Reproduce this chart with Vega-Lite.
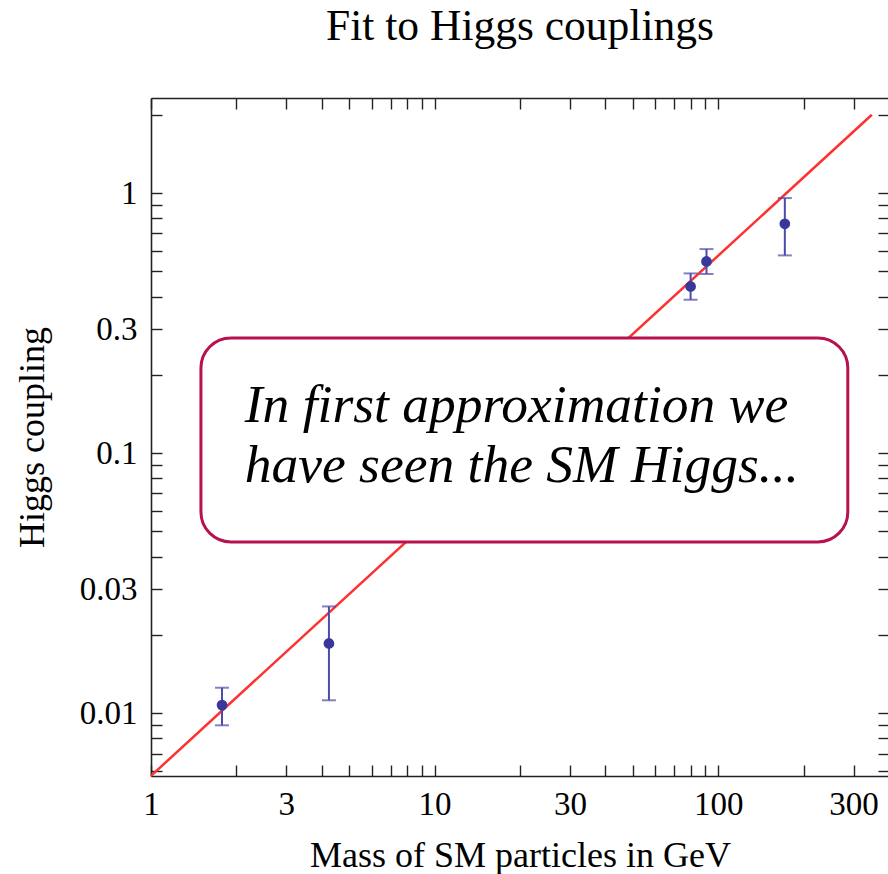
{
  "$schema": "https://vega.github.io/schema/vega-lite/v6.json",
  "width": 738,
  "height": 678,
  "autosize": "none",
  "padding": {"left": 151, "top": 98, "right": 0, "bottom": 98},
  "background": "white",
  "title": {
    "text": "Fit to Higgs couplings",
    "font": "Liberation Serif",
    "fontSize": 43.5,
    "fontWeight": "normal",
    "color": "black",
    "anchor": "middle",
    "frame": "group",
    "baseline": "alphabetic",
    "offset": 14
  },
  "datasets": {
    "fit": [{"m": 1, "c": 0.005747}, {"m": 348, "c": 2.0}],
    "pts": [
      {"particle": "tau", "m": 1.78, "c": 0.01075, "lo": 0.00899, "hi": 0.01254},
      {"particle": "b", "m": 4.24, "c": 0.01856, "lo": 0.01122, "hi": 0.02575},
      {"particle": "W", "m": 79.9, "c": 0.4376, "lo": 0.389, "hi": 0.491},
      {"particle": "Z", "m": 90.9, "c": 0.546, "lo": 0.4885, "hi": 0.609},
      {"particle": "t", "m": 171.7, "c": 0.762, "lo": 0.576, "hi": 0.957}
    ],
    "box": [{"m": 1.5, "m2": 286.3, "c": 0.0456, "c2": 0.2773}],
    "note": [
      {"m": 2.14, "c": 0.1322, "label": "In first approximation we"},
      {"m": 2.14, "c": 0.0778, "label": "have seen the SM Higgs..."}
    ]
  },
  "resolve": {"axis": {"x": "independent", "y": "independent"}},
  "layer": [
    {
      "data": {"name": "fit"},
      "mark": {"type": "line", "color": "#ff3030", "strokeWidth": 2.5},
      "encoding": {
        "x": {
          "field": "m", "type": "quantitative",
          "scale": {"type": "log", "domain": [1, 400], "nice": false, "zero": false},
          "axis": {
            "orient": "bottom",
            "title": "Mass of SM particles in GeV",
            "values": [1,2,3,4,5,6,7,8,9,10,20,30,40,50,60,70,80,90,100,200,300,400],
            "format": "~g",
            "labelExpr": "indexof([1,3,10,30,100,300], datum.value) >= 0 ? datum.label : ''",
            "labelPadding": 23,
            "titlePadding": 17
          }
        },
        "y": {
          "field": "c", "type": "quantitative",
          "scale": {"type": "log", "domain": [0.00574, 2.32], "nice": false, "zero": false},
          "axis": {
            "orient": "left",
            "title": "Higgs coupling",
            "values": [0.006,0.007,0.008,0.009,0.01,0.02,0.03,0.04,0.05,0.06,0.07,0.08,0.09,0.1,0.2,0.3,0.4,0.5,0.6,0.7,0.8,0.9,1,2],
            "format": "~g",
            "labelExpr": "indexof([0.01,0.03,0.1,0.3,1], datum.value) >= 0 ? datum.label : ''",
            "labelPadding": 25,
            "titlePadding": 28
          }
        }
      }
    },
    {
      "data": {"name": "pts"},
      "mark": {"type": "rule", "color": "#4b4bab", "strokeWidth": 2},
      "encoding": {
        "x": {"field": "m", "type": "quantitative", "scale": {"type": "log", "domain": [1, 400], "nice": false, "zero": false}, "axis": null},
        "y": {"field": "lo", "type": "quantitative", "scale": {"type": "log", "domain": [0.00574, 2.32], "nice": false, "zero": false}, "axis": null},
        "y2": {"field": "hi"}
      }
    },
    {
      "data": {"name": "pts"},
      "mark": {"type": "tick", "orient": "horizontal", "color": "#4b4bab", "thickness": 2, "size": 14},
      "encoding": {
        "x": {"field": "m", "type": "quantitative", "scale": {"type": "log", "domain": [1, 400], "nice": false, "zero": false}, "axis": null},
        "y": {"field": "lo", "type": "quantitative", "scale": {"type": "log", "domain": [0.00574, 2.32], "nice": false, "zero": false}, "axis": null}
      }
    },
    {
      "data": {"name": "pts"},
      "mark": {"type": "tick", "orient": "horizontal", "color": "#4b4bab", "thickness": 2, "size": 14},
      "encoding": {
        "x": {"field": "m", "type": "quantitative", "scale": {"type": "log", "domain": [1, 400], "nice": false, "zero": false}, "axis": null},
        "y": {"field": "hi", "type": "quantitative", "scale": {"type": "log", "domain": [0.00574, 2.32], "nice": false, "zero": false}, "axis": null}
      }
    },
    {
      "data": {"name": "pts"},
      "mark": {"type": "circle", "color": "#37379c", "opacity": 1, "size": 115},
      "encoding": {
        "x": {
          "field": "m", "type": "quantitative",
          "scale": {"type": "log", "domain": [1, 400], "nice": false, "zero": false},
          "axis": {
            "orient": "top",
            "title": null,
            "labels": false,
            "values": [1,2,3,4,5,6,7,8,9,10,20,30,40,50,60,70,80,90,100,200,300,400]
          }
        },
        "y": {
          "field": "c", "type": "quantitative",
          "scale": {"type": "log", "domain": [0.00574, 2.32], "nice": false, "zero": false},
          "axis": {
            "orient": "right",
            "title": null,
            "labels": false,
            "values": [0.006,0.007,0.008,0.009,0.01,0.02,0.03,0.04,0.05,0.06,0.07,0.08,0.09,0.1,0.2,0.3,0.4,0.5,0.6,0.7,0.8,0.9,1,2]
          }
        }
      }
    },
    {
      "data": {"name": "box"},
      "mark": {"type": "rect", "fill": "white", "stroke": "#b5124f", "strokeWidth": 3, "cornerRadius": 30},
      "encoding": {
        "x": {"field": "m", "type": "quantitative", "scale": {"type": "log", "domain": [1, 400], "nice": false, "zero": false}, "axis": null},
        "x2": {"field": "m2"},
        "y": {"field": "c", "type": "quantitative", "scale": {"type": "log", "domain": [0.00574, 2.32], "nice": false, "zero": false}, "axis": null},
        "y2": {"field": "c2"}
      }
    },
    {
      "data": {"name": "note"},
      "mark": {"type": "text", "font": "Liberation Serif", "fontStyle": "italic", "fontSize": 53.5, "align": "left", "baseline": "alphabetic", "color": "black"},
      "encoding": {
        "x": {"field": "m", "type": "quantitative", "scale": {"type": "log", "domain": [1, 400], "nice": false, "zero": false}, "axis": null},
        "y": {"field": "c", "type": "quantitative", "scale": {"type": "log", "domain": [0.00574, 2.32], "nice": false, "zero": false}, "axis": null},
        "text": {"field": "label"}
      }
    }
  ],
  "config": {
    "view": {"stroke": null},
    "axis": {
      "grid": false,
      "domainColor": "#222222",
      "domainWidth": 1.6,
      "tickColor": "#222222",
      "tickWidth": 1.4,
      "tickSize": -11,
      "labelFont": "Liberation Serif",
      "labelFontSize": 33,
      "labelColor": "black",
      "labelOverlap": false,
      "labelBound": false,
      "labelFlush": false,
      "titleFont": "Liberation Serif",
      "titleFontSize": 36,
      "titleFontWeight": "normal",
      "titleColor": "black"
    }
  }
}
